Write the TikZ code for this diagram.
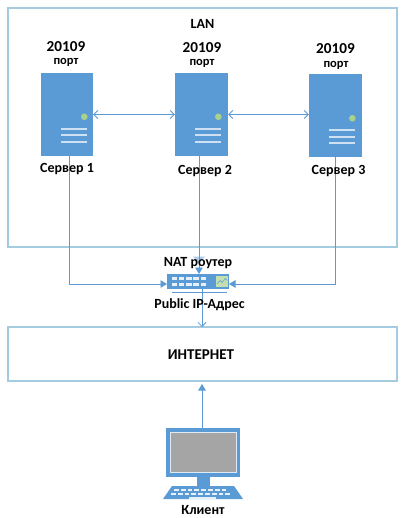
\documentclass[tikz,border=0pt]{standalone}
\usepackage{fontspec}
\setmainfont{Carlito}
\usetikzlibrary{arrows.meta,calc}
\definecolor{srv}{HTML}{5B9BD5}
\definecolor{boxln}{HTML}{A5CBE0}
\definecolor{led}{HTML}{A9D18E}
\definecolor{scr}{HTML}{A5A5A5}
\tikzset{
  x=1pt,y=-1pt,
  area/.style={draw=boxln,line width=1.1pt,fill=white,inner sep=0pt},
  server/.style={fill=srv,inner sep=0pt,minimum width=53pt,minimum height=83pt},
  lbl/.style={font=\bfseries\fontsize{14}{16}\selectfont,text=black,inner sep=0pt},
  portnum/.style={font=\bfseries\fontsize{15.2}{17}\selectfont,text=black,inner sep=0pt},
  portword/.style={font=\bfseries\fontsize{12.5}{14}\selectfont,text=black,inner sep=0pt},
  conn/.style={draw=srv,line width=0.8pt},
  solidtip/.style={-{Triangle[length=6.5pt,width=7.5pt]}},
  opentip/.style={{Straight Barb[length=4pt,width=8pt]}-{Straight Barb[length=4pt,width=8pt]}},
  bar/.style={draw=white!70!srv,line width=1.9pt},
  pale/.style={fill=white!85!srv},
}
\newcommand{\serverdetail}[1]{%
  \fill[led] ($(#1.north west)+(43.5,44)$) circle (3.3);
  \draw[bar] ($(#1.north west)+(20,56)$) -- ++(26,0);
  \draw[bar] ($(#1.north west)+(20,62.5)$) -- ++(26,0);
  \draw[bar] ($(#1.north west)+(20,69)$) -- ++(26,0);
}
\begin{document}
\begin{tikzpicture}
\useasboundingbox (0,0) rectangle (404,518);
\node[area,minimum width=389pt,minimum height=239pt] (lan) at (202.5,127.5) {};
\node[area,minimum width=389pt,minimum height=54pt] (inet) at (202.5,354) {};

\node[server,minimum width=52pt] (s1) at (67,114.5) {};
\node[server] (s2) at (201.5,114.5) {};
\node[server] (s3) at (335.5,116) {};
\serverdetail{s1}\serverdetail{s2}\serverdetail{s3}

% router
\node[fill=srv,inner sep=0pt,minimum width=62pt,minimum height=15pt] (r) at (198,281.5) {};
\foreach \i in {0,1,2,3,4}{
  \fill[pale] ($(r.west)+(5+\i*7.2,-4.2)$) rectangle ++(5.4,3);
  \fill[pale] ($(r.west)+(5+\i*7.2,1.2)$) rectangle ++(5.4,3);
}
\fill[led!70!white] ($(r.east)+(-13,-5.5)$) rectangle ++(12,11);
\draw[srv,line width=0.5pt] ($(r.east)+(-12,2)$) -- ++(3,-3) -- ++(2,2) -- ++(3,-4) -- ++(2,2);
\coordinate (rbarl) at (172,292);
\coordinate (rbarr) at (227,292);
\draw[srv,line width=1pt] (rbarl) -- (rbarr);

% connectors
\coordinate (rl) at (167,284);
\coordinate (rr) at (229,284);
\coordinate (c1) at (69.5,156);
\coordinate (c3) at (335,157.5);
\coordinate (c2) at (199,156);
\coordinate (rt) at (199,274);
\coordinate (rb) at (202,289);
\coordinate (ri) at (202,327);
\draw[conn,solidtip] (c1) |- (rl);
\draw[conn,solidtip] (c3) |- (rr);
\fill[srv!50!white] (193,256.5) -- (205,256.5) -- (199,263) -- cycle;
\draw[conn,solidtip] (c2) -- (rt);
\draw[conn,opentip] (s1.east) -- (s2.west);
\draw[conn,opentip] (s2.east) -- (s3.west |- s2.east);
\draw[conn,-{Straight Barb[length=4pt,width=8pt]}] (rb) -- (ri);

% client
\node[fill=srv,inner sep=0pt,minimum width=74pt,minimum height=49pt] (mon) at (203,452.5) {};
\node[draw=white!80!srv,fill=scr,line width=0.8pt,inner sep=0pt,minimum width=66pt,minimum height=40pt] (scrn) at (203,452.5) {};
\node[fill=srv,inner sep=0pt,minimum width=13pt,minimum height=9pt] (stand) at (203,481.5) {};
\fill[srv] (172,486) -- (234,486) -- (243,499) -- (163,499) -- cycle;
\foreach \j/\a/\n in {489/174/8,493/171/9}{
  \foreach \i in {1,...,\n}{
    \fill[pale] ({\a+(\i-1)*6.8},\j) rectangle ++(4.8,2);
  }
}
\fill[pale] (189,497) rectangle (216,499);
\coordinate (it) at (202,384);
\draw[conn,solidtip] (mon.north -| it) -- (it);

% labels
\node[lbl] (lantxt) at (202.5,24) {LAN};
\node[lbl,font=\bfseries\fontsize{15}{17}\selectfont] (inettxt) at (201,355) {ИНТЕРНЕТ};
\node[portnum] (p1) at (66,46.5) {20109};
\node[portnum] (p2) at (202,47.5) {20109};
\node[portnum] (p3) at (335.5,49) {20109};
\node[portword] (pt1) at (66,62.5) {порт};
\node[portword] (pt2) at (202,63.5) {порт};
\node[portword] (pt3) at (336,65) {порт};
\node[lbl] (n1) at (67,169.5) {Сервер 1};
\node[lbl] (n2) at (205,171.5) {Сервер 2};
\node[lbl] (n3) at (338.5,171.5) {Сервер 3};
\node[lbl] (nat) at (198,263) {NAT роутер};
\node[lbl] (pub) at (199.5,304.5) {Public IP-Адрес};
\node[lbl] (cl) at (203,510) {Клиент};
\end{tikzpicture}
\end{document}
